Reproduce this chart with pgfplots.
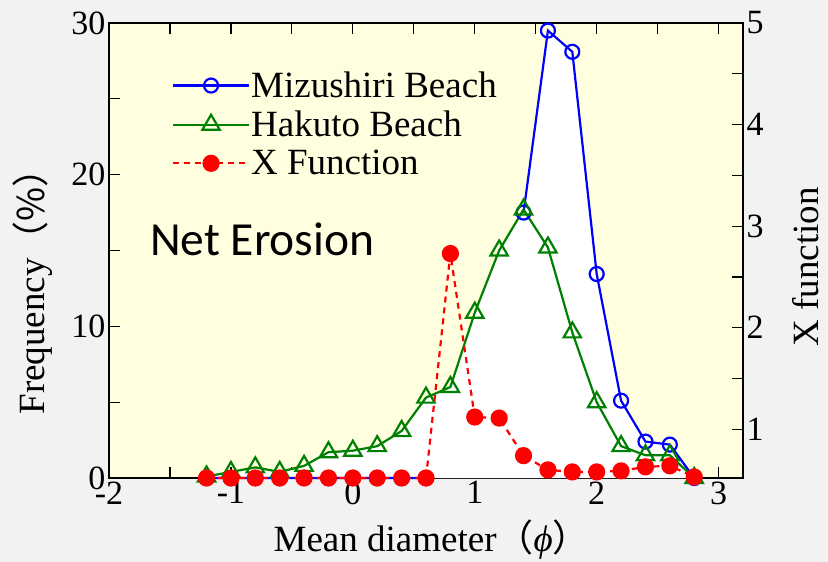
\documentclass[border=0pt]{standalone}
\usepackage{pgfplots}
\pgfplotsset{compat=1.18}
\usepackage{fontspec}
\setmainfont{Liberation Serif}
\newfontfamily\cjk{Noto Sans CJK JP}
\newfontfamily\calibri{Carlito}
\definecolor{bgout}{RGB}{242,242,242}
\definecolor{bgin}{RGB}{255,255,224}
\definecolor{mblue}{RGB}{0,0,255}
\definecolor{mgreen}{RGB}{0,128,0}
\definecolor{mred}{RGB}{255,0,0}
\pgfplotsset{
  base/.style={
    scale only axis, width=634bp, height=455bp,
    at={(109bp,84bp)}, anchor=south west,
    xmin=-2, xmax=3.2, clip=false,
    /pgf/number format/assume math mode=true,
    tick label style={font=\fontsize{34bp}{40bp}\selectfont},
    label style={font=\fontsize{37bp}{44bp}\selectfont},
    tick align=inside, major tick length=11bp, minor tick length=11bp,
    every tick/.style={black, line width=1.2bp},
    axis line style={line width=1.5bp},
  },
}
\begin{document}
\begin{tikzpicture}
\fill[bgout] (0,0) rectangle (828bp,562bp);
\useasboundingbox (0,0) rectangle (828bp,562bp);
\begin{axis}[base,
  ymin=0, ymax=30,
  ytick={0,10,20,30}, minor ytick={5,15,25},
  xtick={-2,-1,0,1,2,3}, minor xtick={-1.5,-0.5,0.5,1.5,2.5},
  xtick pos=both, ytick pos=left,
  axis background/.style={fill=bgin},
  xlabel={Mean diameter{\cjk （}\textit{ϕ}{\cjk ）}},
  ylabel={Frequency{\cjk （\%）}},
  xlabel style={at={(axis description cs:0.509,-0.136)}, anchor=center},
  ylabel style={at={(axis description cs:-0.121,0.43)}, anchor=center},
  legend style={at={(axis description cs:0.099,0.895)}, anchor=north west,
    draw=none, fill=none, font=\fontsize{37bp}{44bp}\selectfont,
    inner sep=0pt, row sep=10bp, nodes={inner sep=1bp}},
  legend cell align=left,
  legend image code/.code={\draw[mark repeat=2, mark phase=2, #1] plot coordinates {(0bp,0bp) (38bp,0bp) (76bp,0bp)};},
  unbounded coords=jump,
]
% white area under the envelope of the two beach curves
\addplot[fill=white, draw=none, forget plot] coordinates {
 (-1.2,0.1) (-1.0,0.4) (-0.8,0.7) (-0.6,0.4) (-0.4,0.8) (-0.2,1.7) (0.0,1.8) (0.2,2.1) (0.4,3.1) (0.6,5.3) (0.8,6.0) (1.0,10.9) (1.2,15.0) (1.4,17.7)
 (1.6,29.5) (1.8,28.1) (2.0,13.45) (2.2,5.1) (2.4,2.4) (2.6,2.2) (2.8,0) } \closedcycle;
\addplot[mblue, line width=2.2bp, mark=o, mark size=7bp, mark options={solid, fill=white, line width=2.2bp}] coordinates {
 (-1.2,0) (-1.0,0) (-0.8,0) (-0.6,0) (-0.4,0) (-0.2,0) (0.0,0) (0.2,0) (0.4,0) (0.6,0) (0.8,nan) (1.0,nan) (1.2,nan)
 (1.4,17.5) (1.6,29.5) (1.8,28.1) (2.0,13.45) (2.2,5.1) (2.4,2.4) (2.6,2.2) (2.8,0) };
\addlegendentry{Mizushiri Beach}
\addplot[mgreen, line width=2.2bp, mark=triangle, mark size=10bp, mark options={solid, fill=white, line width=2.2bp}] coordinates {
 (-1.2,0.1) (-1.0,0.4) (-0.8,0.7) (-0.6,0.4) (-0.4,0.8) (-0.2,1.7) (0.0,1.8) (0.2,2.1) (0.4,3.1) (0.6,5.3) (0.8,6.0) (1.0,10.9) (1.2,15.0) (1.4,17.7)
 (1.6,15.2) (1.8,9.6) (2.0,5.0) (2.2,2.1) (2.4,1.5) (2.6,1.5) (2.8,0) };
\addlegendentry{Hakuto Beach}
\addlegendimage{mred, line width=2.2bp, dash pattern=on 6bp off 5bp, mark=*, mark size=7.5bp, mark options={solid}}
\addlegendentry{X Function}
\node[anchor=base west, inner sep=0pt, font=\calibri\fontsize{47.5bp}{52bp}\selectfont] at (axis cs:-1.664,14.7) {Net Erosion};
\end{axis}
\begin{axis}[base,
  ymin=0.52, ymax=5,
  axis x line=none, axis y line*=right,
  ytick={1,2,3,4,5}, minor ytick={1.5,2.5,3.5,4.5},
  ylabel={X function},
  ylabel style={at={(axis description cs:1.099,0.464)}, anchor=center, rotate=0},
]
\addplot[mred, line width=2.2bp, dash pattern=on 6bp off 5bp, mark=*, mark size=7.5bp, mark options={solid}] coordinates {
 (-1.2,0.52) (-1.0,0.52) (-0.8,0.52) (-0.6,0.52) (-0.4,0.52) (-0.2,0.52) (0.0,0.52) (0.2,0.52) (0.4,0.52) (0.6,0.52)
 (0.8,2.73) (1.0,1.12) (1.2,1.11) (1.4,0.74) (1.6,0.60) (1.8,0.58) (2.0,0.58) (2.2,0.59) (2.4,0.63) (2.6,0.64) (2.8,0.53) };
\end{axis}
\end{tikzpicture}
\end{document}
